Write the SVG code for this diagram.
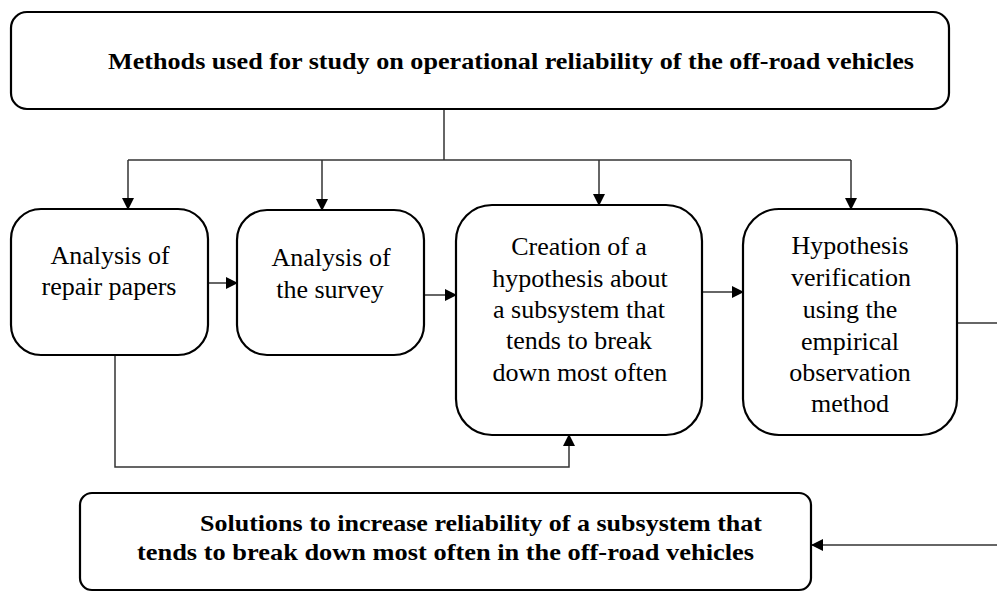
<svg xmlns="http://www.w3.org/2000/svg" width="997" height="592" viewBox="0 0 997 592">
<defs>
<marker id="ah" markerWidth="12" markerHeight="12" refX="11" refY="6" orient="auto" markerUnits="userSpaceOnUse">
<path d="M0,0 L12,6 L0,12 Z" fill="#000"/>
</marker>
<style>
.box{fill:#fff;stroke:#000;stroke-width:2.2}
.c{fill:none;stroke:#333;stroke-width:1.5}
.ca{fill:none;stroke:#333;stroke-width:1.5;marker-end:url(#ah)}
</style>
</defs>
<rect width="997" height="592" fill="#fff"/>
<g id="connectors">
<path class="c" d="M444,109 V160"/>
<path class="c" d="M128,160 H851"/>
<path class="ca" d="M128,160 V209"/>
<path class="ca" d="M322,160 V210"/>
<path class="ca" d="M599,160 V205"/>
<path class="ca" d="M851,160 V209"/>
<path class="ca" d="M209,283 H237"/>
<path class="ca" d="M424,295 H456"/>
<path class="ca" d="M702,292 H743"/>
<path class="c" d="M957,323 H997"/>
<path class="ca" d="M997,545 H812"/>
<path class="ca" d="M115,355 V467 H569 V435"/>
</g>
<g id="top">
<rect class="box" x="11" y="12" width="938" height="97" rx="16"/>
<text x="108" y="69" font-family="'Liberation Serif', serif" font-weight="bold" font-size="23" textLength="806" lengthAdjust="spacingAndGlyphs">Methods used for study on operational reliability of the off-road vehicles</text>
</g>
<g id="n1">
<rect class="box" x="11" y="209" width="197" height="146" rx="30"/>
<g font-family="'Liberation Serif', serif" font-size="26" text-anchor="middle">
<text x="110" y="264">Analysis of</text>
<text x="109" y="295">repair papers</text>
</g>
</g>
<g id="n2">
<rect class="box" x="237" y="210" width="187" height="145" rx="30"/>
<g font-family="'Liberation Serif', serif" font-size="26" text-anchor="middle">
<text x="331" y="266">Analysis of</text>
<text x="330" y="298">the survey</text>
</g>
</g>
<g id="n3">
<rect class="box" x="456" y="205" width="246" height="230" rx="36"/>
<g font-family="'Liberation Serif', serif" font-size="26" text-anchor="middle">
<text x="579" y="255">Creation of a</text>
<text x="580" y="287">hypothesis about</text>
<text x="579" y="318">a subsystem that</text>
<text x="579" y="349">tends to break</text>
<text x="580" y="381">down most often</text>
</g>
</g>
<g id="n4">
<rect class="box" x="743" y="209" width="214" height="226" rx="36"/>
<g font-family="'Liberation Serif', serif" font-size="26" text-anchor="middle">
<text x="850" y="254">Hypothesis</text>
<text x="851" y="286">verification</text>
<text x="850" y="318">using the</text>
<text x="850" y="350">empirical</text>
<text x="850" y="381">observation</text>
<text x="850" y="412">method</text>
</g>
</g>
<g id="n5">
<rect class="box" x="80" y="493" width="731" height="97" rx="12"/>
<g font-family="'Liberation Serif', serif" font-weight="bold" font-size="23">
<text x="200" y="531" textLength="562" lengthAdjust="spacingAndGlyphs">Solutions to increase reliability of a subsystem that</text>
<text x="137" y="560" textLength="617" lengthAdjust="spacingAndGlyphs">tends to break down most often in the off-road vehicles</text>
</g>
</g>
</svg>
